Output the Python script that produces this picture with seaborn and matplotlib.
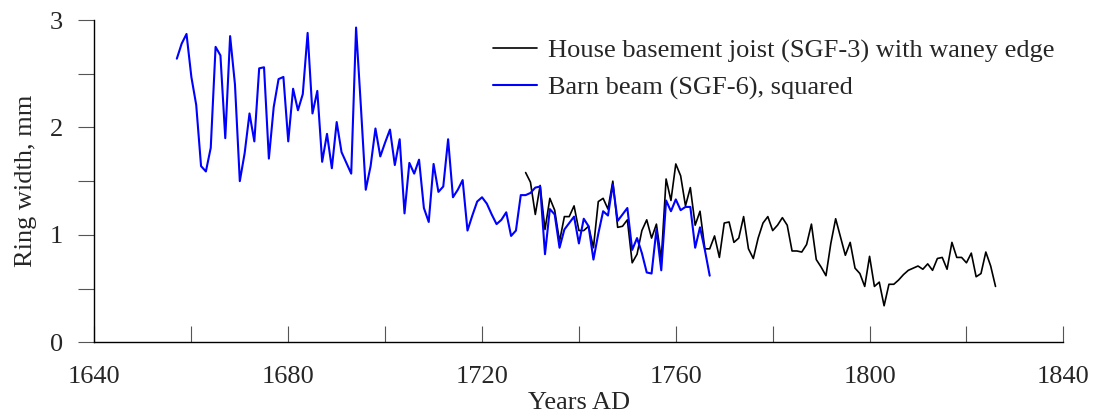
import numpy as np
import pandas as pd
import matplotlib
matplotlib.use("Agg")
import matplotlib.pyplot as plt
import seaborn as sns

# --------------------------
# Ring-width series (mm), one value per year
# --------------------------
barn_start = 1657
barn_width = [
    2.64, 2.78, 2.87, 2.47, 2.21, 1.64, 1.59, 1.81, 2.75, 2.67,
    1.90, 2.85, 2.40, 1.50, 1.76, 2.13, 1.87, 2.55, 2.56, 1.71,
    2.19, 2.45, 2.47, 1.87, 2.36, 2.16, 2.31, 2.88, 2.13, 2.34,
    1.68, 1.94, 1.62, 2.05, 1.77, 1.67, 1.57, 2.93, 2.19, 1.42,
    1.64, 1.99, 1.73, 1.86, 1.98, 1.65, 1.89, 1.20, 1.67, 1.57,
    1.70, 1.25, 1.12, 1.66, 1.40, 1.45, 1.89, 1.35, 1.42, 1.51,
    1.04, 1.18, 1.31, 1.35, 1.29, 1.19, 1.10, 1.14, 1.21, 0.99,
    1.04, 1.37, 1.37, 1.39, 1.44, 1.45, 0.82, 1.24, 1.19, 0.88,
    1.05, 1.11, 1.17, 0.92, 1.15, 1.08, 0.77, 1.01, 1.22, 1.18,
    1.47, 1.13, 1.19, 1.25, 0.86, 0.97, 0.83, 0.65, 0.64, 1.05,
    0.67, 1.32, 1.22, 1.33, 1.23, 1.26, 1.26, 0.88, 1.07, 0.86,
    0.62,
]

house_start = 1729
house_width = [
    1.58, 1.49, 1.19, 1.46, 1.05, 1.34, 1.23, 0.94, 1.17, 1.17,
    1.27, 1.04, 1.04, 1.08, 0.88, 1.31, 1.34, 1.24, 1.50, 1.07,
    1.08, 1.14, 0.74, 0.82, 1.04, 1.14, 0.97, 1.10, 0.77, 1.52,
    1.32, 1.66, 1.55, 1.27, 1.44, 1.09, 1.22, 0.87, 0.87, 0.99,
    0.79, 1.11, 1.12, 0.93, 0.97, 1.17, 0.87, 0.78, 0.97, 1.11,
    1.17, 1.04, 1.09, 1.16, 1.09, 0.85, 0.85, 0.84, 0.91, 1.10,
    0.77, 0.70, 0.62, 0.92, 1.15, 0.98, 0.81, 0.93, 0.69, 0.64,
    0.52, 0.80, 0.52, 0.56, 0.34, 0.54, 0.54, 0.58, 0.63, 0.67,
    0.69, 0.71, 0.68, 0.73, 0.67, 0.78, 0.79, 0.68, 0.93, 0.79,
    0.79, 0.74, 0.83, 0.61, 0.64, 0.84, 0.71, 0.52,
]

house_label = "House basement joist (SGF-3) with waney edge"
barn_label = "Barn beam (SGF-6), squared"

df_house = pd.DataFrame({"year": np.arange(house_start, house_start + len(house_width)),
                         "width": house_width})
df_barn = pd.DataFrame({"year": np.arange(barn_start, barn_start + len(barn_width)),
                        "width": barn_width})

# --------------------------
# Plot
# --------------------------
sns.set_style("ticks")
plt.rcParams["font.family"] = ["Liberation Serif", "DejaVu Serif"]

fig = plt.figure(figsize=(10.96, 4.15), dpi=100)
ax = fig.add_axes([0.0862, 0.1752, 0.8840, 0.7766])

sns.lineplot(data=df_house, x="year", y="width", color="black", lw=1.2,
             label=house_label, ax=ax)
sns.lineplot(data=df_barn, x="year", y="width", color="#0000ff", lw=1.5,
             label=barn_label, ax=ax)

ax.set_xlim(1640, 1840)
ax.set_ylim(0, 3)

xt = list(range(1640, 1841, 20))
ax.set_xticks(xt)
ax.set_xticklabels([str(t) if (t - 1640) % 40 == 0 else "" for t in xt])
ax.set_yticks(np.arange(0, 3.01, 0.5))
ax.set_yticklabels(["0", "", "1", "", "2", "", "3"])

ax.tick_params(axis="x", direction="in", length=11.5, width=0.8, color="#555555",
               labelsize=19, pad=17)
ax.tick_params(axis="y", direction="out", length=11.5, width=0.8, color="#555555",
               labelsize=19, pad=11)

for s in ["top", "right"]:
    ax.spines[s].set_visible(False)
for s in ["left", "bottom"]:
    ax.spines[s].set_linewidth(1.0)
    ax.spines[s].set_color("black")

ax.set_xlabel("Years AD", fontsize=19, labelpad=3)
ax.set_ylabel("Ring width, mm", fontsize=19, labelpad=9)

ax.legend(loc="upper left", bbox_to_anchor=(0.450, 0.906), bbox_transform=fig.transFigure,
          frameon=False, fontsize=19, handlelength=1.67, handletextpad=0.42,
          borderpad=0, borderaxespad=0, labelspacing=0.49)

fig.savefig("out.png", dpi=100)
